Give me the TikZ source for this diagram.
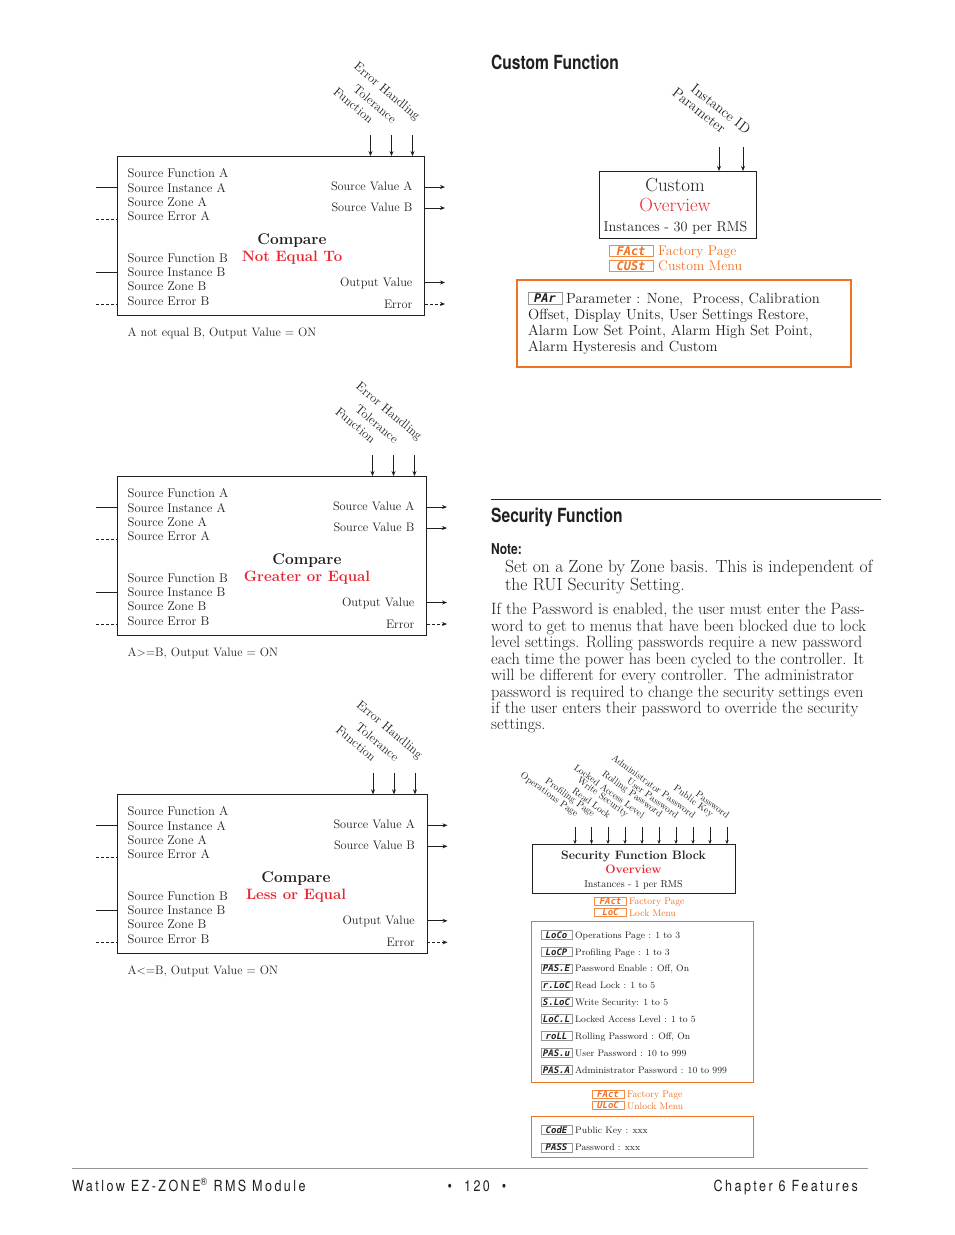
\documentclass[tikz,border=0pt]{standalone}
\usepackage{fontspec}
\usetikzlibrary{arrows.meta}
\newfontfamily\condfont[FakeStretch=0.8]{TeX Gyre Heros}
\newfontfamily\footfont[FakeStretch=0.82,LetterSpace=16]{TeX Gyre Heros}
\newfontfamily\segfont{DejaVu Sans Mono}
\newcommand{\myfs}[1]{\fontsize{#1}{#1}\selectfont}
\definecolor{wtext}{RGB}{35,31,32}
\definecolor{wred}{RGB}{234,36,46}
\definecolor{worange}{RGB}{241,113,34}
\definecolor{wlorange}{RGB}{245,140,70}
\definecolor{wgray}{RGB}{150,150,150}
\tikzset{
  lt/.style={inner sep=0pt, anchor=base west, text=wtext},
  rt/.style={inner sep=0pt, anchor=base east, text=wtext},
  ct/.style={inner sep=0pt, anchor=base, text=wtext},
  rotlab/.style={inner sep=0pt, anchor=south east, text=wtext},
  arr/.style={draw=wtext, line width=0.7pt, -{Stealth[length=5pt,width=4pt]}},
  sarr/.style={draw=wtext, line width=0.6pt, -{Stealth[length=4pt,width=3.2pt]}},
  darr/.style={arr, dash pattern=on 3pt off 2pt},
  inl/.style={draw=wtext, line width=0.7pt},
  dinl/.style={inl, dash pattern=on 3pt off 2pt},
  fbox/.style={draw=wtext, line width=0.9pt, inner sep=0pt, anchor=north west},
  segbox/.style={draw=wgray, line width=0.5pt, inner sep=0pt, text=wtext, font=\segfont\bfseries\itshape\myfs{9}, minimum width=31pt, minimum height=9pt},
  osegbox/.style={segbox, draw=wlorange, text=worange},
}
% compare block: #1 prefix, #2 top y, #3 width, #4 centre x, #5 red label, #6 caption
\newcommand{\cmpblock}[6]{%
\begin{scope}[shift={(0,#2)}]
\pgfmathsetmacro\rx{117+#3}
\node[fbox, minimum width=#3pt, minimum height=158.5pt] (#1box) at (117,0) {};
\node[lt, font=\myfs{12.6}] (#1l1) at (127.5,21) {Source Function A};
\node[lt, font=\myfs{12.6}] (#1l2) at (127.5,36) {Source Instance A};
\node[lt, font=\myfs{12.6}] (#1l3) at (127.5,50) {Source Zone A};
\node[lt, font=\myfs{12.6}] (#1l4) at (127.5,64) {Source Error A};
\node[lt, font=\myfs{12.6}] (#1l5) at (127.5,106) {Source Function B};
\node[lt, font=\myfs{12.6}] (#1l6) at (127.5,120.5) {Source Instance B};
\node[lt, font=\myfs{12.6}] (#1l7) at (127.5,134.5) {Source Zone B};
\node[lt, font=\myfs{12.6}] (#1l8) at (127.5,149) {Source Error B};
\node[rt, font=\myfs{12.3}] (#1r1) at (\rx-11.5,34) {Source Value A};
\node[rt, font=\myfs{12.3}] (#1r2) at (\rx-11.5,55.5) {Source Value B};
\node[rt, font=\myfs{12.3}] (#1r3) at (\rx-11.5,130) {Output Value};
\node[rt, font=\myfs{12.3}] (#1r4) at (\rx-11.5,152) {Error};
\node[ct, font=\bfseries\myfs{15.5}] (#1cmp) at (#4,88) {Compare};
\node[ct, font=\bfseries\myfs{15}, text=wred] (#1op) at (#4,105) {#5};
\node[lt, font=\myfs{12.2}] (#1cap) at (127.5,180) {#6};
\coordinate (#1i1) at (96,31);
\coordinate (#1i2) at (96,63);
\coordinate (#1i3) at (96,116);
\coordinate (#1i4) at (96,148);
\draw[inl] (#1i1) -- (#1i1 -| #1box.west);
\draw[dinl] (#1i2) -- (#1i2 -| #1box.west);
\draw[inl] (#1i3) -- (#1i3 -| #1box.west);
\draw[dinl] (#1i4) -- (#1i4 -| #1box.west);
\coordinate (#1o1) at (\rx+21,31);
\coordinate (#1o2) at (\rx+21,52);
\coordinate (#1o3) at (\rx+21,126.5);
\coordinate (#1o4) at (\rx+21,148);
\draw[arr] (#1box.east |- #1o1) -- (#1o1);
\draw[arr] (#1box.east |- #1o2) -- (#1o2);
\draw[arr] (#1box.east |- #1o3) -- (#1o3);
\draw[darr] (#1box.east |- #1o4) -- (#1o4);
\coordinate (#1t1) at (\rx-53.5,-21);
\coordinate (#1t2) at (\rx-32.5,-21);
\coordinate (#1t3) at (\rx-11.5,-21);
\draw[arr] (#1t1) -- (#1t1 |- #1box.north);
\draw[arr] (#1t2) -- (#1t2 |- #1box.north);
\draw[arr] (#1t3) -- (#1t3 |- #1box.north);
\node[rotlab, rotate=-40, font=\myfs{12.6}] (#1lf) at (\rx-55,-32) {Function};
\node[rotlab, rotate=-40, font=\myfs{12.6}] (#1lt) at (\rx-32,-32) {Tolerance};
\node[rotlab, rotate=-40, font=\myfs{12.6}] (#1le) at (\rx-9.5,-33) {Error Handling};
\end{scope}}
\newcommand{\listitem}[4]{%
\node[segbox] (#1c) at (556.5,#2) {#3};
\node[lt, font=\myfs{9.4}] (#1t) at (575,#2+3.2) {#4};}
\begin{document}
\begin{tikzpicture}[x=1pt,y=-1pt]
\fill[white] (0,0) rectangle (954,1235);
\useasboundingbox (0,0) rectangle (954,1235);

% ---------- compare blocks ----------
\cmpblock{a}{156}{307}{292}{Not Equal To}{A not equal B, Output Value = ON}
\cmpblock{b}{476}{309}{307}{Greater or Equal}{A>=B, Output Value = ON}
\cmpblock{c}{794.3}{309.5}{296}{Less or Equal}{A<=B, Output Value = ON}

% ---------- custom function ----------
\node[lt, font=\condfont\bfseries\myfs{19.5}] (cfh) at (491,69) {Custom Function};
\node[fbox, minimum width=157pt, minimum height=67pt] (cbox) at (599,171) {};
\coordinate (ca1) at (719,147);
\coordinate (ca2) at (743,147);
\draw[arr] (ca1) -- (ca1 |- cbox.north);
\draw[arr] (ca2) -- (ca2 |- cbox.north);
\node[rotlab, rotate=-38, font=\myfs{14.2}] (cl1) at (721,134) {Parameter};
\node[rotlab, rotate=-38, font=\myfs{14.2}] (cl2) at (746,135) {Instance ID};
\node[ct, font=\myfs{19}] (ct1) at (675,191) {Custom};
\node[ct, font=\myfs{19}, text=wred] (ct2) at (675,211) {Overview};
\node[ct, font=\myfs{14.2}] (ct3) at (675.5,231) {Instances - 30 per RMS};
\node[osegbox, minimum width=44pt, minimum height=11pt, font=\segfont\bfseries\itshape\myfs{12}] (cs1) at (631,251) {FAct};
\node[lt, font=\myfs{13.9}, text=worange] (cs1t) at (658,255.5) {Factory Page};
\node[osegbox, minimum width=44pt, minimum height=11pt, font=\segfont\bfseries\itshape\myfs{12}] (cs2) at (631,266) {CUSt};
\node[lt, font=\myfs{13.9}, text=worange] (cs2t) at (658,270.5) {Custom Menu};
\node[draw=worange, line width=1.6pt, inner sep=0pt, minimum width=334pt, minimum height=87pt, anchor=north west] (obox) at (516,279) {};
\node[segbox, minimum width=34pt, minimum height=12pt, font=\segfont\bfseries\itshape\myfs{12}] (par) at (545,298.5) {PAr};
\node[lt, font=\myfs{14.7}] (po1) at (566,303) {Parameter : None,\ \ Process, Calibration};
\node[lt, font=\myfs{14.7}] (po2) at (528,319) {Offset, Display Units, User Settings Restore,};
\node[lt, font=\myfs{14.7}] (po3) at (528,335) {Alarm Low Set Point, Alarm High Set Point,};
\node[lt, font=\myfs{14.7}] (po4) at (528,351) {Alarm Hysteresis and Custom};

% ---------- security function ----------
\coordinate (sl0) at (491,499);
\coordinate (sl1) at (881,499);
\draw[draw=wtext, line width=0.8pt] (sl0) -- (sl1);
\node[lt, font=\condfont\bfseries\myfs{19.5}] (sfh) at (491,522) {Security Function};
\node[lt, font=\condfont\bfseries\myfs{15}] (note) at (491,554.5) {Note:};
\node[lt, font=\myfs{17.6}] (n1) at (505,572.5) {Set on a Zone by Zone basis. This is independent of};
\node[lt, font=\myfs{17.6}] (n2) at (505,590.5) {the RUI Security Setting.};
\node[lt, font=\myfs{16.4}] (p1) at (491,614.5) {If the Password is enabled, the user must enter the Pass-};
\node[lt, font=\myfs{16.4}] (p2) at (491,631) {word to get to menus that have been blocked due to lock};
\node[lt, font=\myfs{16.4}] (p3) at (491,647.5) {level settings. Rolling passwords require a new password};
\node[lt, font=\myfs{16.4}] (p4) at (491,664) {each time the power has been cycled to the controller. It};
\node[lt, font=\myfs{16.4}] (p5) at (491,680.5) {will be different for every controller. The administrator};
\node[lt, font=\myfs{16.4}] (p6) at (491,697) {password is required to change the security settings even};
\node[lt, font=\myfs{16.4}] (p7) at (491,713) {if the user enters their password to override the security};
\node[lt, font=\myfs{16.4}] (p8) at (491,729.5) {settings.};

\node[fbox, minimum width=203pt, minimum height=49pt] (secbox) at (532,844) {};
\foreach \t/\xx [count=\i] in {Operations Page/575, Profiling Page/591.5, Read Lock/608, Write Security/625, Locked Access Level/642, Rolling Password/659, User Password/676, Administrator Password/693, Public Key/710, Password/727}{
  \coordinate (sa\i) at (\xx,827);
  \draw[sarr] (sa\i) -- (sa\i |- secbox.north);
  \node[rotlab, rotate=-36, font=\myfs{9.5}] (slab\i) at (\xx-0.5,819) {\t};
}
\node[ct, font=\bfseries\myfs{12.2}] (sb1) at (633.5,859) {Security Function Block};
\node[ct, font=\bfseries\myfs{12.2}, text=wred] (sb2) at (633.5,873.5) {Overview};
\node[ct, font=\myfs{10}] (sb3) at (633.5,887.5) {Instances - 1 per RMS};
\node[osegbox, minimum width=32pt, minimum height=8pt] (ss1) at (610.5,901) {FAct};
\node[lt, font=\myfs{9.6}, text=worange] (ss1t) at (629,904.5) {Factory Page};
\node[osegbox, minimum width=32pt, minimum height=8pt] (ss2) at (610.5,912.7) {\hfill LoC};
\node[lt, font=\myfs{9.6}, text=worange] (ss2t) at (629,916) {Lock Menu};

\node[draw=worange, line width=1pt, inner sep=0pt, minimum width=221.7pt, minimum height=160.7pt, anchor=north west] (lbox) at (531,921) {};
\listitem{la}{935}{LoCo}{Operations Page : 1 to 3}
\listitem{lb}{952}{LoCP}{Profiling Page : 1 to 3}
\listitem{lc}{968.5}{PAS.E}{Password Enable : Off, On}
\listitem{ld}{985.5}{r.LoC}{Read Lock : 1 to 5}
\listitem{le}{1002}{S.LoC}{Write Security: 1 to 5}
\listitem{lf}{1019}{LoC.L}{Locked Access Level : 1 to 5}
\listitem{lg}{1036}{roLL}{Rolling Password : Off, On}
\listitem{lh}{1053}{PAS.u}{User Password : 10 to 999}
\listitem{li}{1070}{PAS.A}{Administrator Password : 10 to 999}

\node[osegbox, minimum width=32pt, minimum height=8pt] (us1) at (608,1094) {FAct};
\node[lt, font=\myfs{9.6}, text=worange] (us1t) at (627,1097.3) {Factory Page};
\node[osegbox, minimum width=32pt, minimum height=8pt] (us2) at (608,1105.7) {ULoC};
\node[lt, font=\myfs{9.6}, text=worange] (us2t) at (627,1109) {Unlock Menu};

\node[draw=worange, line width=1pt, inner sep=0pt, minimum width=221.7pt, minimum height=41.3pt, anchor=north west] (ubox) at (531,1116) {};
\listitem{ua}{1130}{CodE}{Public Key : xxx}
\listitem{ub}{1147.3}{PASS}{Password : xxx}

% ---------- footer ----------
\coordinate (f0) at (72,1168);
\coordinate (f1) at (868,1168);
\draw[draw=wgray, line width=0.8pt] (f0) -- (f1);
\node[lt, font=\footfont\myfs{15.3}] (ft1) at (72,1191) {Watlow EZ-ZONE\textsuperscript{®} RMS Module};
\node[ct, font=\footfont\myfs{15.3}] (ft2) at (477,1191) {•\hspace{12pt}120\hspace{12pt}•};
\node[rt, font=\footfont\myfs{15.3}] (ft3) at (858,1191) {Chapter 6 Features};
\end{tikzpicture}
\end{document}
